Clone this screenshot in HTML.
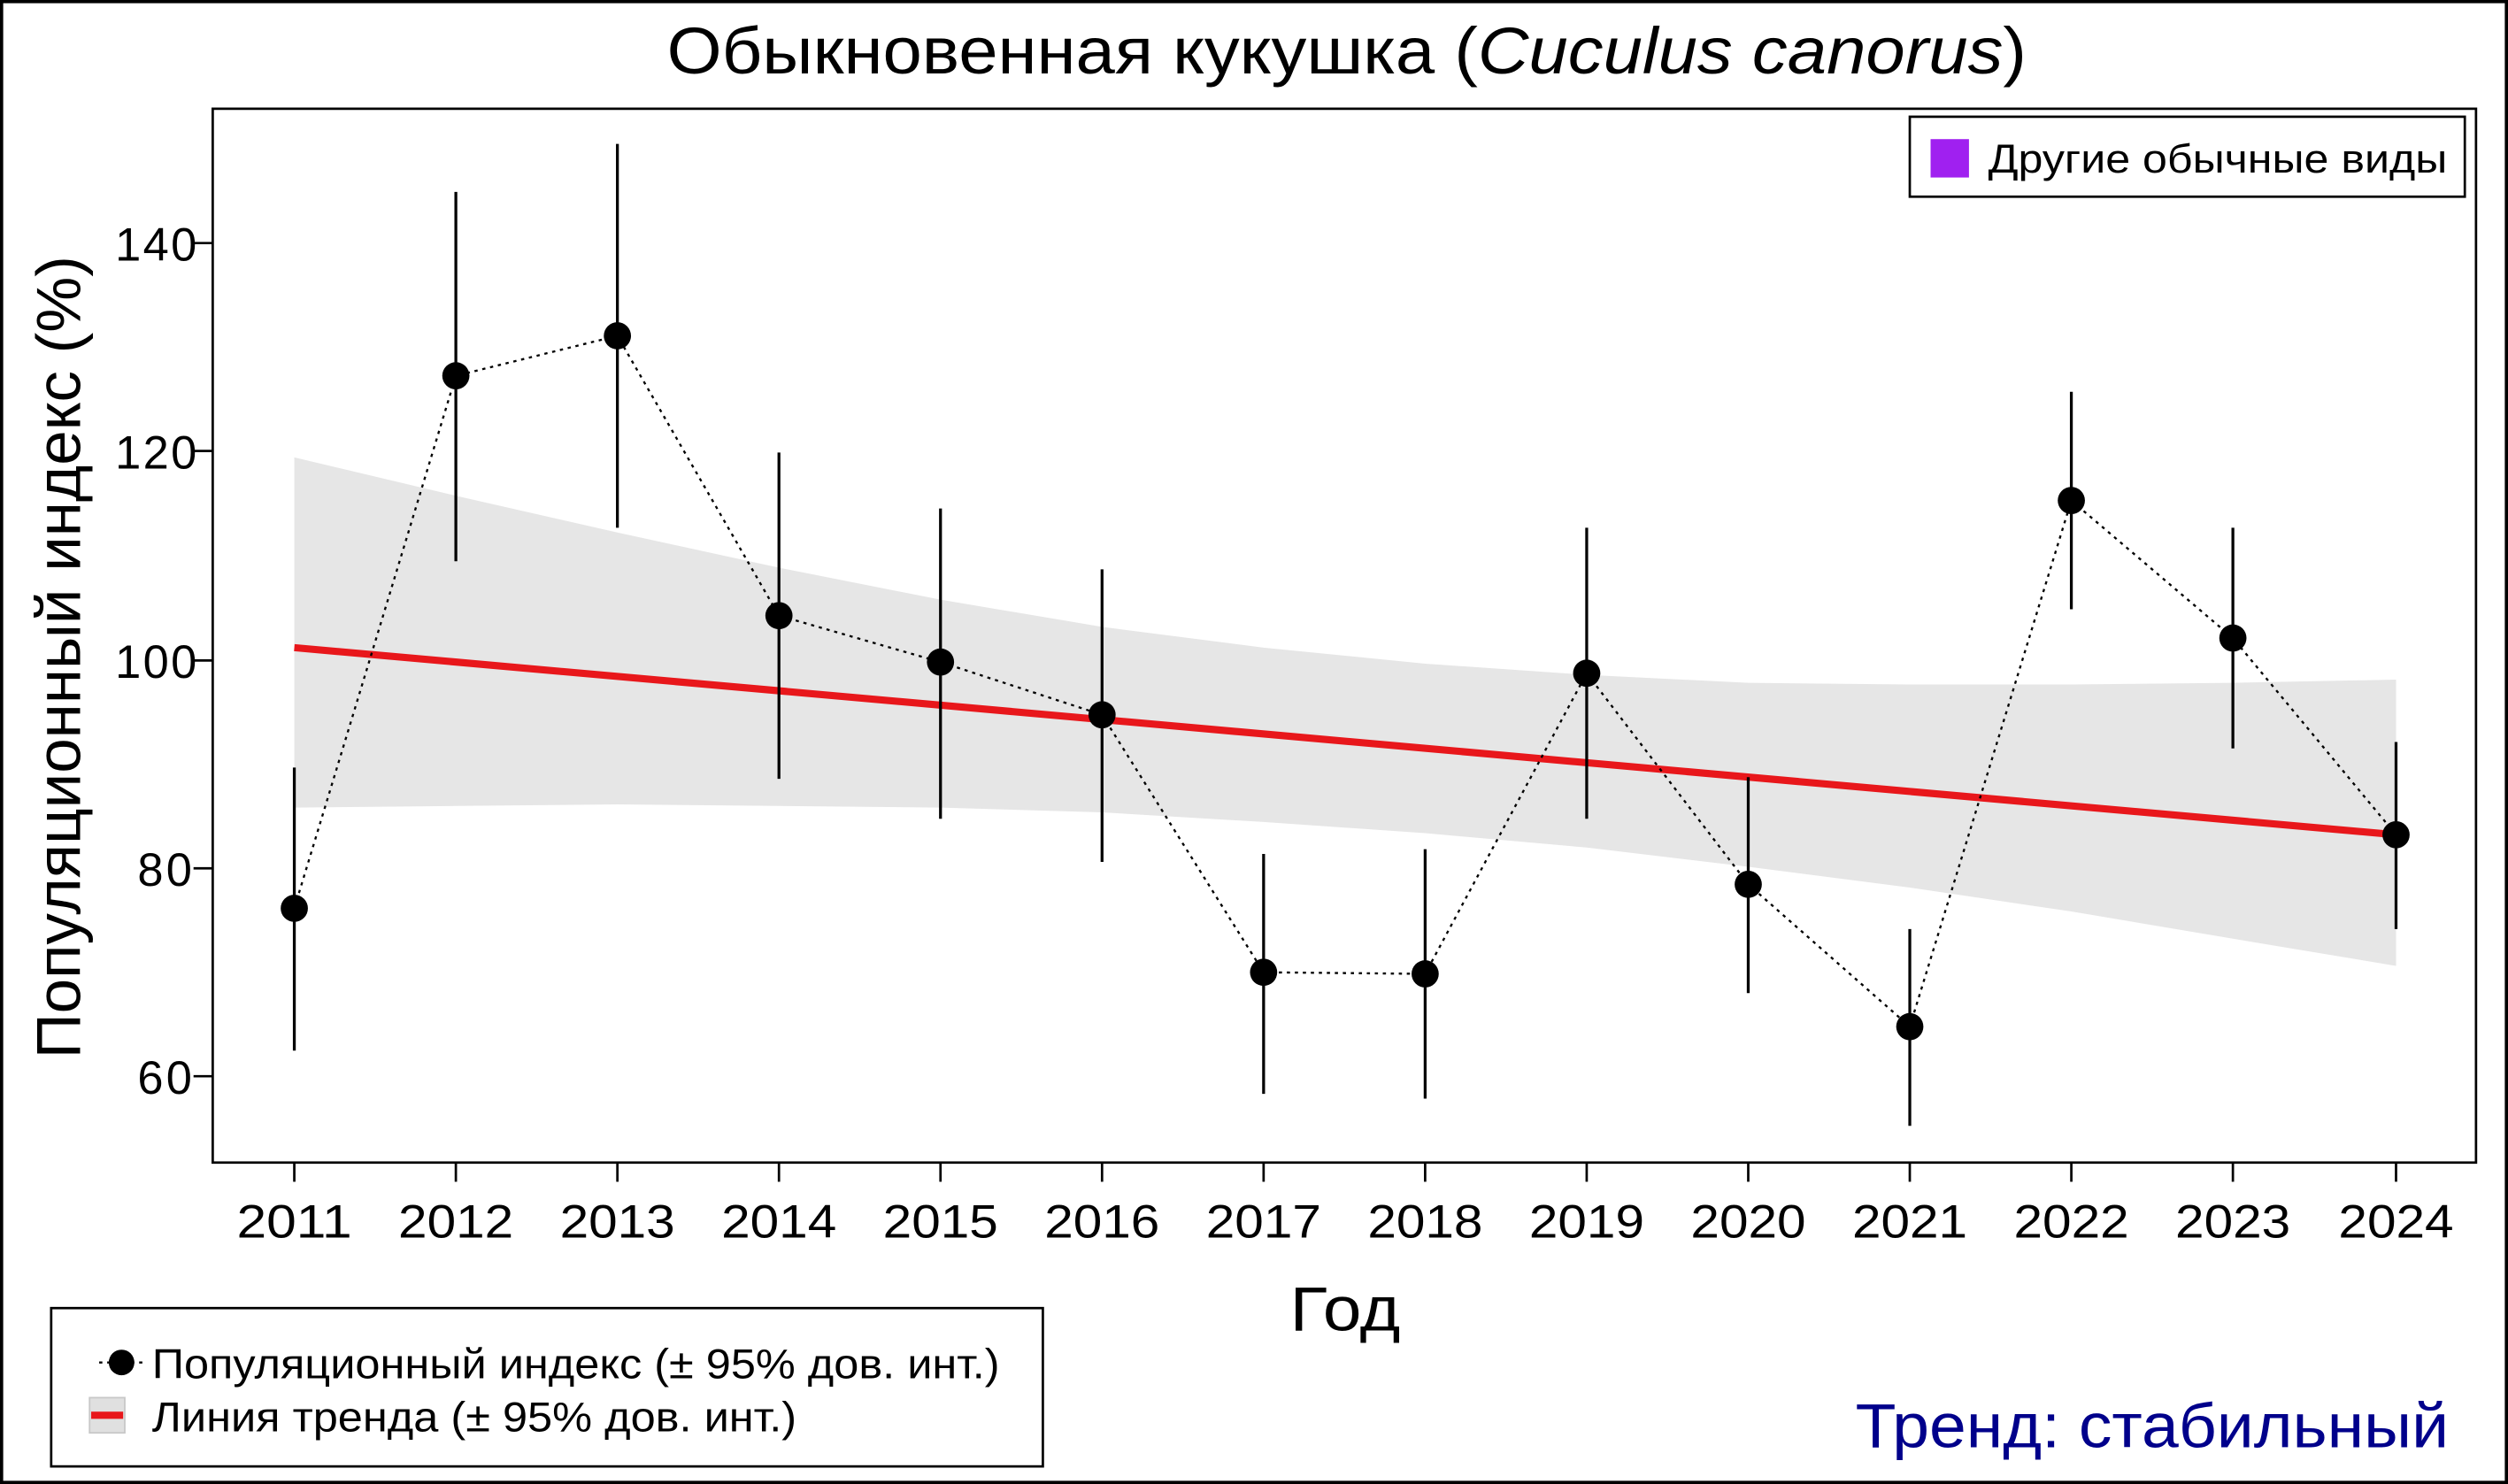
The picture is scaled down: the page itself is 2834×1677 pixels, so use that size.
<!DOCTYPE html>
<html><head><meta charset="utf-8"><style>html,body{margin:0;padding:0;background:#fff}svg{display:block}</style></head>
<body>
<svg width="2834" height="1677" viewBox="0 0 1568 928" preserveAspectRatio="none" xmlns="http://www.w3.org/2000/svg" font-family="'Liberation Sans', Arial, sans-serif">
<rect x="0" y="0" width="1568" height="928" fill="#fff"/>
<rect x="1" y="1" width="1566" height="926" fill="none" stroke="#000" stroke-width="2"/>
<text x="417" y="46" font-size="41" textLength="850" lengthAdjust="spacingAndGlyphs">Обыкновенная кукушка (<tspan font-style="italic">Cuculus canorus</tspan>)</text>
<polygon fill="#e6e6e6" points="184,286 285,310 386,333 487,355 588,375 689,392 790,405 891,415 992,422 1093,427 1194,428 1295,428 1396,427 1498,425 1498,604 1396,587 1295,570 1194,555 1093,542 992,530 891,521 790,514 689,508 588,505 487,504 386,503 285,504 184,505"/>
<line x1="184" y1="405" x2="1498" y2="522" stroke="#e8171b" stroke-width="4.5"/>
<g stroke="#000" stroke-width="1.8">
<line x1="184" y1="480" x2="184" y2="657"/><line x1="285" y1="120" x2="285" y2="351"/><line x1="386" y1="90" x2="386" y2="330"/><line x1="487" y1="283" x2="487" y2="487"/><line x1="588" y1="318" x2="588" y2="512"/><line x1="689" y1="356" x2="689" y2="539"/><line x1="790" y1="534" x2="790" y2="684"/><line x1="891" y1="531" x2="891" y2="687"/><line x1="992" y1="330" x2="992" y2="512"/><line x1="1093" y1="486" x2="1093" y2="621"/><line x1="1194" y1="581" x2="1194" y2="704"/><line x1="1295" y1="245" x2="1295" y2="381"/><line x1="1396" y1="330" x2="1396" y2="468"/><line x1="1498" y1="464" x2="1498" y2="581"/>
</g>
<polyline fill="none" stroke="#000" stroke-width="1.3" stroke-dasharray="2,3" points="184,568 285,235 386,210 487,385 588,414 689,447 790,608 891,609 992,421 1093,553 1194,642 1295,313 1396,399 1498,522"/>
<g fill="#000">
<circle cx="184" cy="568" r="8.5"/><circle cx="285" cy="235" r="8.5"/><circle cx="386" cy="210" r="8.5"/><circle cx="487" cy="385" r="8.5"/><circle cx="588" cy="414" r="8.5"/><circle cx="689" cy="447" r="8.5"/><circle cx="790" cy="608" r="8.5"/><circle cx="891" cy="609" r="8.5"/><circle cx="992" cy="421" r="8.5"/><circle cx="1093" cy="553" r="8.5"/><circle cx="1194" cy="642" r="8.5"/><circle cx="1295" cy="313" r="8.5"/><circle cx="1396" cy="399" r="8.5"/><circle cx="1498" cy="522" r="8.5"/>
</g>
<rect x="133" y="68" width="1415" height="659" fill="none" stroke="#000" stroke-width="1.5"/>
<g stroke="#000" stroke-width="1.5">
<line x1="121" y1="152" x2="133" y2="152"/><line x1="121" y1="282" x2="133" y2="282"/><line x1="121" y1="413" x2="133" y2="413"/><line x1="121" y1="543" x2="133" y2="543"/><line x1="121" y1="673" x2="133" y2="673"/>
</g>
<g font-size="29" text-anchor="end" lengthAdjust="spacingAndGlyphs">
<text x="123" y="163" textLength="51">140</text><text x="123" y="293" textLength="51">120</text><text x="123" y="424" textLength="51">100</text><text x="120" y="554" textLength="34">80</text><text x="120" y="684" textLength="34">60</text>
</g>
<g stroke="#000" stroke-width="1.5">
<line x1="184" y1="727" x2="184" y2="739"/><line x1="285" y1="727" x2="285" y2="739"/><line x1="386" y1="727" x2="386" y2="739"/><line x1="487" y1="727" x2="487" y2="739"/><line x1="588" y1="727" x2="588" y2="739"/><line x1="689" y1="727" x2="689" y2="739"/><line x1="790" y1="727" x2="790" y2="739"/><line x1="891" y1="727" x2="891" y2="739"/><line x1="992" y1="727" x2="992" y2="739"/><line x1="1093" y1="727" x2="1093" y2="739"/><line x1="1194" y1="727" x2="1194" y2="739"/><line x1="1295" y1="727" x2="1295" y2="739"/><line x1="1396" y1="727" x2="1396" y2="739"/><line x1="1498" y1="727" x2="1498" y2="739"/>
</g>
<g font-size="29" text-anchor="middle">
<text x="184" y="774" textLength="72" lengthAdjust="spacingAndGlyphs">2011</text><text x="285" y="774" textLength="72" lengthAdjust="spacingAndGlyphs">2012</text><text x="386" y="774" textLength="72" lengthAdjust="spacingAndGlyphs">2013</text><text x="487" y="774" textLength="72" lengthAdjust="spacingAndGlyphs">2014</text><text x="588" y="774" textLength="72" lengthAdjust="spacingAndGlyphs">2015</text><text x="689" y="774" textLength="72" lengthAdjust="spacingAndGlyphs">2016</text><text x="790" y="774" textLength="72" lengthAdjust="spacingAndGlyphs">2017</text><text x="891" y="774" textLength="72" lengthAdjust="spacingAndGlyphs">2018</text><text x="992" y="774" textLength="72" lengthAdjust="spacingAndGlyphs">2019</text><text x="1093" y="774" textLength="72" lengthAdjust="spacingAndGlyphs">2020</text><text x="1194" y="774" textLength="72" lengthAdjust="spacingAndGlyphs">2021</text><text x="1295" y="774" textLength="72" lengthAdjust="spacingAndGlyphs">2022</text><text x="1396" y="774" textLength="72" lengthAdjust="spacingAndGlyphs">2023</text><text x="1498" y="774" textLength="72" lengthAdjust="spacingAndGlyphs">2024</text>
</g>
<text x="841" y="832" font-size="39" text-anchor="middle" textLength="69" lengthAdjust="spacingAndGlyphs">Год</text>
<text transform="translate(50,411) rotate(-90)" font-size="39" text-anchor="middle" textLength="502" lengthAdjust="spacingAndGlyphs">Популяционный индекс (%)</text>
<rect x="1194" y="73" width="347" height="50" fill="#fff" stroke="#000" stroke-width="1.5"/>
<rect x="1207" y="87" width="24" height="24" fill="#a020f0"/>
<text x="1243" y="108" font-size="25" textLength="287" lengthAdjust="spacingAndGlyphs">Другие обычные виды</text>
<rect x="32" y="818" width="620" height="99" fill="#fff" stroke="#000" stroke-width="1.5"/>
<line x1="62" y1="852" x2="90" y2="852" stroke="#000" stroke-width="1.3" stroke-dasharray="2,3"/>
<circle cx="76" cy="852" r="8" fill="#000"/>
<text x="95" y="862" font-size="26" textLength="530" lengthAdjust="spacingAndGlyphs">Популяционный индекс (± 95% дов. инт.)</text>
<rect x="56" y="874" width="22" height="22" fill="#e0e0e0" stroke="#c8c8c8"/>
<line x1="57" y1="885" x2="77" y2="885" stroke="#e8171b" stroke-width="4.5"/>
<text x="95" y="895" font-size="26" textLength="403" lengthAdjust="spacingAndGlyphs">Линия тренда (± 95% дов. инт.)</text>
<text x="1531" y="905" font-size="39" text-anchor="end" fill="#00008b" textLength="371" lengthAdjust="spacingAndGlyphs">Тренд: стабильный</text>
</svg>
</body></html>
